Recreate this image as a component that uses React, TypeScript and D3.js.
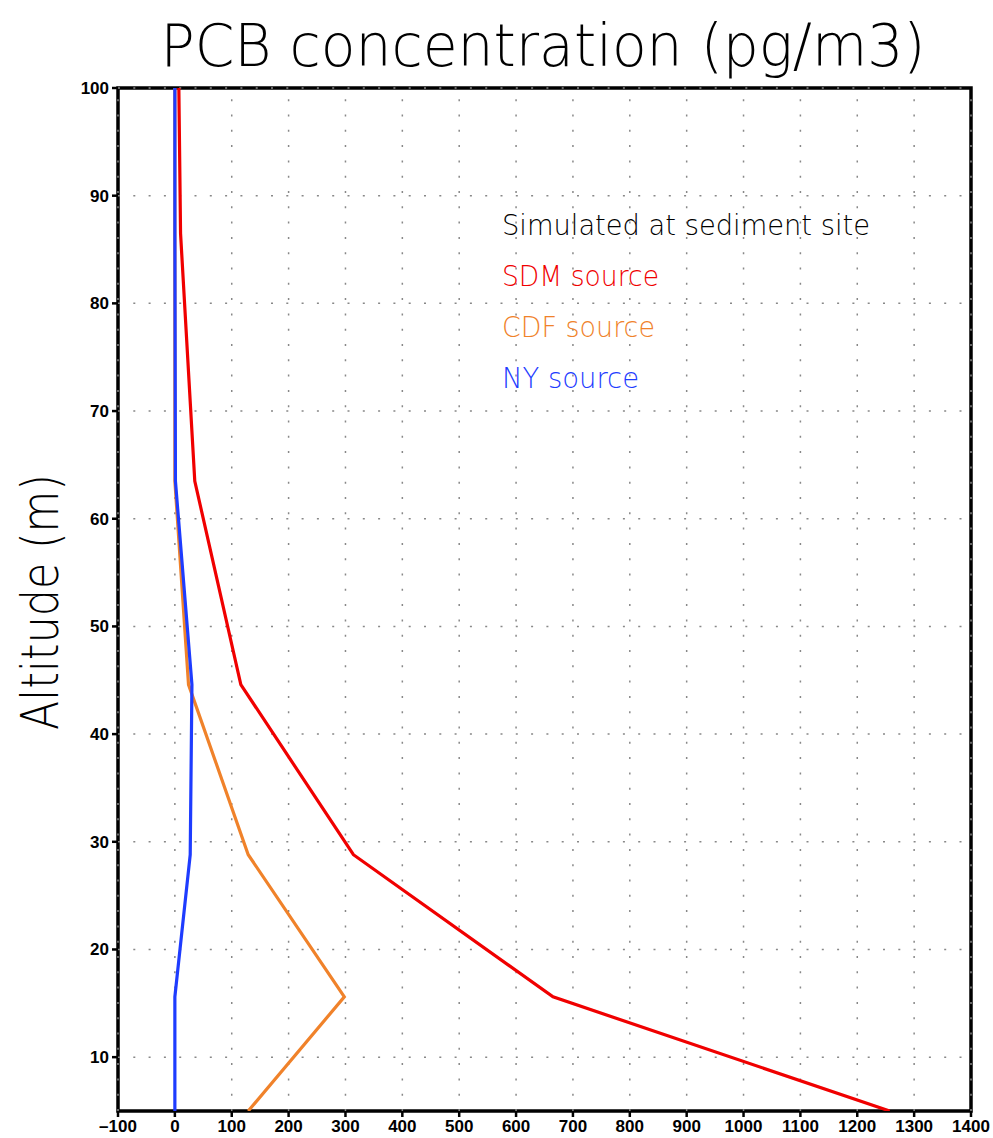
import React from "react";
import * as d3 from "d3";

const altitudes = [5, 15.6, 28.8, 44.6, 63.5, 86.5, 100];
const sdmSource = [1257, 665, 314, 116, 35, 10, 7];
const cdfSource = [129, 298, 129, 24, 0, 0, 0];
const nySource = [0, 0, 27, 30, 1, 0, 0];

const xTicks = [-100, 0, 100, 200, 300, 400, 500, 600, 700, 800, 900, 1000, 1100, 1200, 1300, 1400];
const yTicks = [10, 20, 30, 40, 50, 60, 70, 80, 90, 100];

const legendTitle = "Simulated at sediment site";
const seriesNames = ["SDM source", "CDF source", "NY source"];
const seriesColors = ["#f00000", "#f0822a", "#1e3cff"];

export default function App() {
  const W = 993, H = 1138;
  const L = 118, R = 971, T = 88, B = 1111;
  const x = d3.scaleLinear().domain([-100, 1400]).range([L, R]);
  const y = d3.scaleLinear().domain([5, 100]).range([B, T]);
  const series = [sdmSource, cdfSource, nySource];
  const line = d3
    .line<[number, number]>()
    .x((d) => x(d[0]))
    .y((d) => y(d[1]));
  const drawOrder = [1, 0, 2];
  return (
    <svg
      width={W}
      height={H}
      style={{ position: "absolute", left: 0, top: 0, background: "#fff" }}
    >
      <rect x={0} y={0} width={W} height={H} fill="#fff" />
      <defs>
        <clipPath id="plotclip">
          <rect x={L} y={T} width={R - L} height={B - T} />
        </clipPath>
      </defs>
      {/* title */}
      <text
        x={543}
        y={66}
        textAnchor="middle"
        fontFamily="'DejaVu Sans', sans-serif"
        fontWeight={200}
        fontSize={58}
        textLength={765}
        lengthAdjust="spacingAndGlyphs"
        fill="#000"
      >
        PCB concentration (pg/m3)
      </text>
      {/* y axis label */}
      <text
        transform={`translate(58,602) rotate(-90)`}
        textAnchor="middle"
        fontFamily="'DejaVu Sans', sans-serif"
        fontWeight={200}
        fontSize={52}
        textLength={256}
        lengthAdjust="spacingAndGlyphs"
        fill="#000"
      >
        Altitude (m)
      </text>
      {/* frame */}
      <rect x={L} y={T} width={R - L} height={B - T} fill="none" stroke="#000" strokeWidth={3.5} />
      {/* grid */}
      <g stroke="#888" strokeWidth={1.5} strokeDasharray="2,13.3">
        {xTicks.map((t) => (
          <line key={"gx" + t} x1={x(t)} x2={x(t)} y1={B} y2={T} />
        ))}
        {yTicks.map((t) => (
          <line key={"gy" + t} x1={L} x2={R} y1={y(t)} y2={y(t)} />
        ))}
      </g>
      {/* ticks */}
      <g stroke="#000" strokeWidth={2.5}>
        {xTicks.map((t) => (
          <line key={"tx" + t} x1={x(t)} x2={x(t)} y1={B} y2={B + 6} />
        ))}
        {yTicks.map((t) => (
          <line key={"ty" + t} x1={L - 6} x2={L} y1={y(t)} y2={y(t)} />
        ))}
      </g>
      <g fontFamily="'Liberation Sans', Arial, sans-serif" fontWeight={700} fontSize={17} fill="#000">
        {xTicks.map((t) => (
          <text key={"lx" + t} x={x(t)} y={1132} textAnchor="middle">
            {t < 0 ? "\u2013" + Math.abs(t) : String(t)}
          </text>
        ))}
        {yTicks.map((t) => (
          <text key={"ly" + t} x={L - 9} y={y(t) + 6} textAnchor="end">
            {t}
          </text>
        ))}
      </g>
      {/* lines */}
      <g clipPath="url(#plotclip)">
        {drawOrder.map((i) => (
          <path
            key={"s" + i}
            d={line(series[i].map((v, k) => [v, altitudes[k]] as [number, number])) || ""}
            fill="none"
            stroke={seriesColors[i]}
            strokeWidth={3.2}
            strokeLinejoin="miter"
          />
        ))}
      </g>
      {/* legend */}
      <g fontFamily="'DejaVu Sans', sans-serif" fontWeight={200} fontSize={28}>
        <text x={502} y={235} fill="#000" textLength={368} lengthAdjust="spacingAndGlyphs">
          {legendTitle}
        </text>
        {seriesNames.map((n, i) => (
          <text
            key={n}
            x={502}
            y={286 + i * 51}
            fill={seriesColors[i]}
            textLength={[157, 153, 137][i]}
            lengthAdjust="spacingAndGlyphs"
          >
            {n}
          </text>
        ))}
      </g>
    </svg>
  );
}
